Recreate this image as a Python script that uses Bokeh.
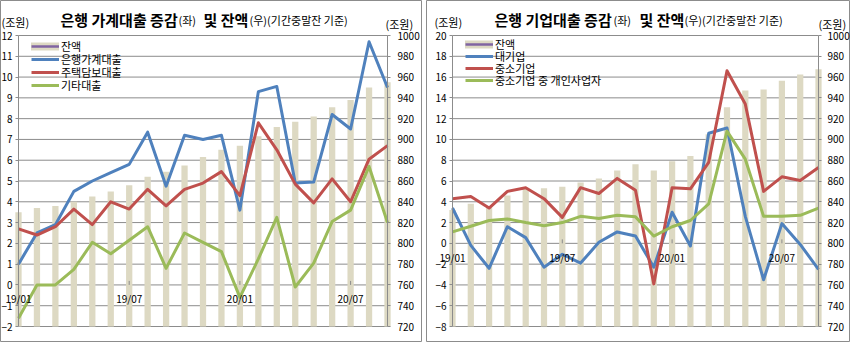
import math
from bokeh.plotting import figure
from bokeh.models import (Range1d, LinearAxis, FixedTicker, LabelSet,
                          ColumnDataSource, Legend, LegendItem)
from bokeh.layouts import row
from bokeh.embed import file_html
from bokeh.resources import INLINE
from bokeh.core.properties import value

FONT = "Noto Sans CJK KR"

months = ["19/01", "19/02", "19/03", "19/04", "19/05", "19/06", "19/07",
          "19/08", "19/09", "19/10", "19/11", "19/12", "20/01", "20/02",
          "20/03", "20/04", "20/05", "20/06", "20/07", "20/08", "20/09"]
cat_tick_labels = ["19/01", "19/07", "20/01", "20/07"]

# Left panel: household loans (trillion won)
hh_balance = [830, 834, 836, 840, 845, 850, 856, 864, 869, 875, 883, 890,
              894, 903, 912, 917, 922, 931, 938, 950, 955]
hh_bank = [1.0, 2.5, 2.9, 4.5, 5.0, 5.4, 5.8, 7.35, 4.75, 7.2, 7.0, 7.2,
           3.6, 9.3, 9.55, 4.9, 4.95, 8.2, 7.5, 11.7, 9.5]
hh_mortgage = [2.7, 2.4, 2.8, 3.65, 2.9, 4.0, 3.65, 4.6, 3.8, 4.6, 4.9, 5.45,
               4.3, 7.8, 6.5, 4.85, 3.95, 5.1, 4.0, 6.05, 6.7]
hh_other = [-1.6, 0.0, 0.0, 0.75, 2.05, 1.5, 2.15, 2.8, 0.8, 2.5, 2.05, 1.6,
            -0.6, 1.25, 3.25, -0.1, 1.05, 3.05, 3.6, 5.7, 3.0]
hh_left_ticks = [-2, -1, 0, 1, 2, 3, 4, 5, 6, 7, 8, 9, 10, 11, 12]

# Right panel: corporate loans (trillion won)
corp_balance = [832, 838, 834.5, 846, 852, 853, 854.5, 858.5, 862.5, 870, 876,
                870, 879, 884, 905, 931, 947, 948, 956.5, 962.5, 967.5]
corp_large = [3.4, -0.2, -2.4, 1.6, 0.55, -2.3, -1.05, -1.9, 0.1, 1.1, 0.7,
              -2.3, 3.0, -0.25, 10.6, 11.1, 2.6, -3.5, 1.9, -0.1, -2.5]
corp_sme = [4.3, 4.5, 3.4, 5.0, 5.35, 4.3, 2.5, 5.36, 4.8, 6.25, 5.1, -3.9,
            5.35, 5.25, 7.8, 16.6, 13.4, 5.0, 6.4, 6.05, 7.3]
corp_sole = [1.1, 1.65, 2.2, 2.35, 2.0, 1.7, 2.0, 2.6, 2.4, 2.7, 2.55, 0.7,
             1.6, 2.2, 3.8, 10.8, 8.1, 2.6, 2.6, 2.7, 3.4]
corp_left_ticks = [-8, -6, -4, -2, 0, 2, 4, 6, 8, 10, 12, 14, 16, 18, 20]

balance_ticks = [720, 740, 760, 780, 800, 820, 840, 860, 880, 900, 920, 940,
                 960, 980, 1000]

BAR = "#DDD9C3"
BLUE = "#4F81BD"
RED = "#C0504D"
GREEN = "#9BBB59"
PURPLE = "#8064A2"
GRID = "#8C8C8C"

H = 342            # panel height (px)
PLOT_T, PLOT_B = 35, 326   # pixel rows of the top / bottom value
ITEM_H = 16
CAT_DY = 14        # category labels: px below the zero line
CAT_TICK = 4       # category tick marks: px above the zero line


def make_panel(W, plot_l, plot_r, balance, series, names, left_ticks,
               right_standoff, title_parts, legend_x, legend_rows):
    idx = list(range(len(months)))
    # map the plotting region onto the full canvas so that nothing is clipped
    sx = (plot_r - plot_l) / (idx[-1] - idx[0])
    sy = (PLOT_B - PLOT_T) / (left_ticks[-1] - left_ticks[0])
    sb = (PLOT_B - PLOT_T) / (balance_ticks[-1] - balance_ticks[0])
    x0 = idx[0] - plot_l / sx
    x1 = idx[-1] + (W - plot_r) / sx
    ytop = left_ticks[-1] + PLOT_T / sy
    ybot = left_ticks[0] - (H - PLOT_B) / sy

    def px2x(px):
        return x0 + px / sx

    def py2y(py):
        return ytop - py / sy

    p = figure(width=W, height=H, x_range=Range1d(x0, x1),
               y_range=Range1d(ybot, ytop), x_axis_location=None,
               output_backend="svg", toolbar_location=None, min_border=0,
               outline_line_color=GRID, outline_line_width=1)
    p.extra_y_ranges = {"bal": Range1d(balance_ticks[0] - (H - PLOT_B) / sb,
                                       balance_ticks[-1] + PLOT_T / sb)}
    p.xgrid.visible = False
    p.ygrid.visible = False

    lax = p.yaxis[0]
    lax.ticker = FixedTicker(ticks=left_ticks)
    lax.fixed_location = idx[0]
    lax.bounds = (left_ticks[0], left_ticks[-1])
    rax = LinearAxis(y_range_name="bal", ticker=FixedTicker(ticks=balance_ticks),
                     fixed_location=idx[-1],
                     bounds=(balance_ticks[0], balance_ticks[-1]))
    p.add_layout(rax, "right")
    for ax, standoff in [(lax, 3), (rax, right_standoff)]:
        ax.axis_line_color = GRID
        ax.major_tick_line_color = GRID
        ax.major_tick_in = 0
        ax.major_tick_out = 3
        ax.minor_tick_line_color = None
        ax.major_label_standoff = standoff
        ax.major_label_text_font = FONT
        ax.major_label_text_font_size = "10px"
        ax.major_label_text_color = "#000000"

    # horizontal gridlines across the plotting region
    n = len(left_ticks)
    p.segment(x0=[idx[0]] * n, y0=left_ticks, x1=[idx[-1]] * n, y1=left_ticks,
              line_color=GRID, line_width=1)

    p.vbar(x=idx, top=balance, bottom=balance_ticks[0], width=0.34,
           y_range_name="bal", fill_color=BAR, line_color=None)

    # category axis on the zero line
    tick_idx = [months.index(t) for t in cat_tick_labels]
    k = len(tick_idx)
    p.segment(x0=tick_idx, y0=[0] * k, x1=tick_idx, y1=[CAT_TICK / sy] * k,
              line_color=GRID, line_width=1)
    src = ColumnDataSource(dict(x=tick_idx, y=[-CAT_DY / sy] * k,
                                text=cat_tick_labels))
    p.add_layout(LabelSet(x="x", y="y", text="text", source=src,
                          text_align="center", text_baseline="middle",
                          text_font=value(FONT), text_font_size="10px",
                          text_color="#000000"))

    line_rs = []
    for s, c in zip(series, [BLUE, RED, GREEN]):
        line_rs.append(p.line(idx, s, line_width=3, line_color=c,
                              line_join="round"))

    # titles and unit labels
    for text, px, py, size, style in title_parts:
        p.text(x=[px2x(px)], y=[py2y(py)], text=[text], text_font=value(FONT),
               text_font_size=value(size), text_font_style=style,
               text_align="left", text_baseline="alphabetic",
               text_color="#000000")

    # legend: swatch for the balance is a beige band with a purple line
    leg_band = p.line([math.nan], [math.nan], line_width=8, line_color=BAR,
                      line_cap="round")
    leg_line = p.line([math.nan], [math.nan], line_width=2.5, line_color=PURPLE)
    entries = [(names[0], [leg_band, leg_line])] + \
              [(nm, [r]) for nm, r in zip(names[1:], line_rs)]
    for (label, rs), cy in zip(entries, legend_rows):
        leg = Legend(items=[LegendItem(label=label, renderers=rs)],
                     location=(legend_x, H - cy - ITEM_H / 2),
                     glyph_width=28, glyph_height=ITEM_H, label_height=ITEM_H,
                     label_standoff=2, spacing=0, padding=0, margin=0,
                     border_line_color=None, background_fill_alpha=0,
                     label_text_font=FONT, label_text_font_size="11px",
                     label_text_color="#000000")
        p.add_layout(leg, "center")
    return p


p1 = make_panel(422, 18, 387, hh_balance, [hh_bank, hh_mortgage, hh_other],
                ["잔액", "은행가계대출", "주택담보대출", "기타대출"],
                hh_left_ticks, 7,
                [("(조원)", 1, 21, "11px", "normal"),
                 ("은행 가계대출 증감", 60, 19, "15px", "bold"),
                 ("(좌)", 178, 19, "11px", "normal"),
                 ("및 잔액", 203, 19, "15px", "bold"),
                 ("(우)(기간중말잔 기준)", 249, 19, "11px", "normal"),
                 ("(조원)", 385, 23, "11px", "normal")],
                31, [45.5, 59, 72, 84.5])

p2 = make_panel(424, 26, 392, corp_balance, [corp_large, corp_sme, corp_sole],
                ["잔액", "대기업", "중소기업", "중소기업 중 개인사업자"],
                corp_left_ticks, 6,
                [("(조원)", 8, 21, "11px", "normal"),
                 ("은행 기업대출 증감", 68, 19, "15px", "bold"),
                 ("(좌)", 187, 19, "11px", "normal"),
                 ("및 잔액", 213, 19, "15px", "bold"),
                 ("(우)(기간중말잔 기준)", 258, 19, "11px", "normal"),
                 ("(조원)", 392, 23, "11px", "normal")],
                39, [43.7, 55.7, 68, 80.3])

layout = row(p1, p2, spacing=4)
open("out.html", "w").write(file_html(layout, INLINE))
